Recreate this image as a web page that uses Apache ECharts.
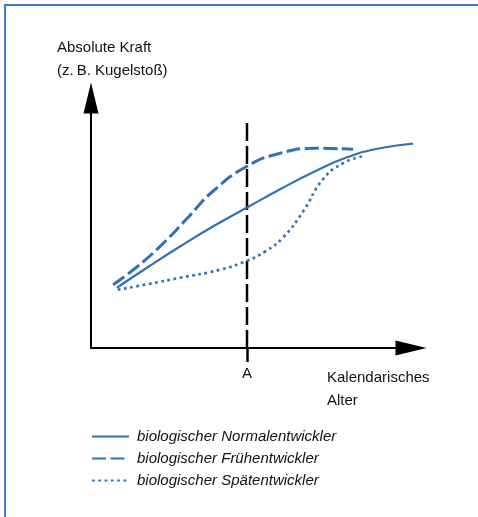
<!DOCTYPE html>
<html>
<head>
<meta charset="utf-8">
<script src="https://cdn.jsdelivr.net/npm/echarts@6/dist/echarts.min.js"></script>
<style>html,body{margin:0;padding:0;background:#fff}#c{width:478px;height:517px}</style>
</head>
<body>
<div id="c"></div>
<script>
// Data (x = calendar age, y = absolute force), arbitrary 0..100 units
const seriesNames = ['biologischer Normalentwickler', 'biologischer Frühentwickler', 'biologischer Spätentwickler'];
const normalData = [[8.1,24.1],[18.4,32.9],[27.8,40.6],[38.1,48.6],[48.75,56.2],[59.1,63.5],[69.4,70.3],[80.0,76.3],[90.3,79.9],[101.9,81.9]];
const earlyData  = [[6.9,25.3],[14.4,32.5],[22.2,41.4],[30.3,52.2],[38.1,62.7],[48.75,72.7],[59.1,77.9],[70.0,79.9],[81.9,79.5]];
const lateData   = [[8.4,23.3],[18.4,25.7],[27.8,28.1],[40.3,31.3],[48.75,34.9],[54.4,38.6],[60.0,44.2],[66.25,54.6],[72.5,67.5],[78.75,73.9],[85.0,76.7]];
const markA = 48.75;
const markALabel = 'A';
const markTop = 92;
const yAxisTitle = ['Absolute Kraft', '(z.\u2009B. Kugelstoß)'];
const xAxisTitle = ['Kalendarisches', 'Alter'];

const blue = '#2f72b6';
const font = 'Liberation Sans, Arial, sans-serif';
const chart = echarts.init(document.getElementById('c'));
chart.setOption({
  animation: false,
  textStyle: { fontFamily: font },
  grid: { left: 91, right: 67, top: 98, bottom: 169 },
  xAxis: {
    type: 'value', min: 0, max: 100,
    axisLine: { show: true, symbol: ['none', 'triangle'], symbolSize: [15, 31], lineStyle: { color: '#000', width: 2 } },
    axisTick: { show: true, customValues: [markA], length: 14, lineStyle: { color: '#000', width: 2.5 } },
    axisLabel: { show: true, customValues: [markA], formatter: () => markALabel, margin: 18, fontSize: 15, color: '#111', fontFamily: font },
    splitLine: { show: false }
  },
  yAxis: {
    type: 'value', min: 0, max: 100,
    axisLine: { show: true, symbol: ['none', 'triangle'], symbolSize: [15, 31], lineStyle: { color: '#000', width: 2 } },
    axisTick: { show: false }, axisLabel: { show: false }, splitLine: { show: false }
  },
  legend: {
    data: seriesNames,
    orient: 'vertical', left: 91, top: 429, padding: 0,
    itemWidth: 37, itemHeight: 14, itemGap: 7,
    itemStyle: { opacity: 0 },
    textStyle: { fontSize: 15, fontStyle: 'italic', color: '#111', fontFamily: font, padding: [0, 0, 0, 3] },
    selectedMode: false
  },
  graphic: [
    { type: 'polyline', shape: { points: [[5, 517], [5, 5], [478, 5]] }, style: { stroke: '#3d7cc6', lineWidth: 2, fill: null } },
    { type: 'text', left: 57, top: 36, style: { text: yAxisTitle.join('\n'), font: '15px ' + font, lineHeight: 23, fill: '#111' } },
    { type: 'text', left: 327, top: 366, style: { text: xAxisTitle.join('\n'), font: '15px ' + font, lineHeight: 23, fill: '#111' } }
  ],
  series: [
    { name: seriesNames[0], type: 'line', data: normalData, smooth: 0.5, symbol: 'none', clip: false,
      lineStyle: { color: blue, width: 2.2 }, itemStyle: { color: blue } },
    { name: seriesNames[1], type: 'line', data: earlyData, smooth: 0.5, symbol: 'none', clip: false,
      lineStyle: { color: blue, width: 3, type: [14, 4.5] }, itemStyle: { color: blue } },
    { name: seriesNames[2], type: 'line', data: lateData, smooth: 0.5, symbol: 'none', clip: false,
      lineStyle: { color: blue, width: 2.7, type: [2.7, 3.6] }, itemStyle: { color: blue } },
    { name: 'A', type: 'line', data: [[markA, 0], [markA, markTop]], symbol: 'none', silent: true, z: 1,
      lineStyle: { color: '#000', width: 2.5, type: [18, 5] } }
  ]
});
</script>
</body>
</html>
